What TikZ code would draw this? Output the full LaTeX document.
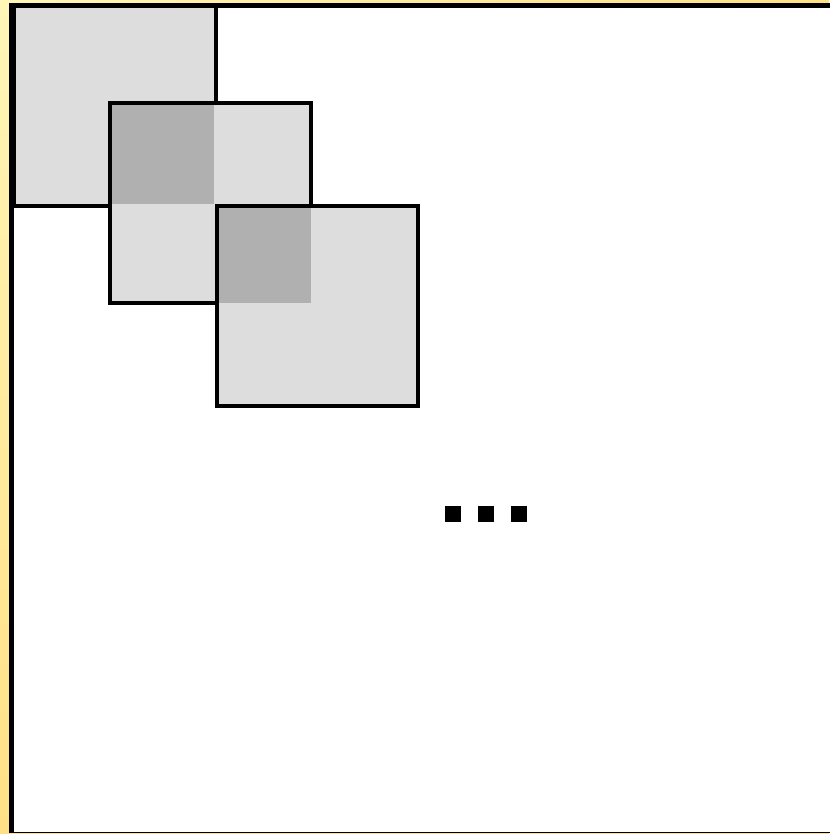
\documentclass[tikz,border=0pt]{standalone}
\usetikzlibrary{shadings}
\definecolor{lightsq}{HTML}{DDDDDD}
\definecolor{darksq}{HTML}{B0B0B0}
\definecolor{paleyel}{HTML}{FFF6B8}
\definecolor{deepyel}{HTML}{FFE085}
\begin{document}
\begin{tikzpicture}[x=0.02cm,y=-0.02cm,
  sq/.style={draw,line width=0.08cm,fill=lightsq,minimum width=4.04cm,minimum height=4.02cm,inner sep=0pt,outer sep=0pt},
  dot/.style={fill=black,minimum size=0.33cm,inner sep=0pt,outer sep=0pt},
  frame/.style={line width=0.09cm}]
  \useasboundingbox (0,0) rectangle (829,834);
  \shade[upper left=paleyel,upper right=deepyel,lower left=deepyel,lower right=deepyel] (0,0) rectangle (829,834);
  \coordinate (ftl) at (11.7,5.3);
  \coordinate (ftr) at (835,5.3);
  \coordinate (fbl) at (11.7,832.6);
  \coordinate (fbr) at (835,832.6);
  \fill[white] (ftl) rectangle (fbr);
  \draw[frame] (fbl) -- (ftl) -- (ftr);
  \draw[line width=0.03cm] (fbl) -- (fbr);
  % windows
  \node[sq] (w1) at (115,106) {};
  \node[sq] (w2) at (210.5,203) {};
  \fill[darksq] ([shift={(0.04cm,-0.04cm)}]w2.north west) rectangle ([shift={(-0.04cm,0.04cm)}]w1.south east);
  \node[sq] (w3) at (317.5,306) {};
  \fill[darksq] ([shift={(0.04cm,-0.04cm)}]w3.north west) rectangle (w2.south east);
  % more
  \node[dot] (d1) at (453,514) {};
  \node[dot] (d2) at (486,514) {};
  \node[dot] (d3) at (519,514) {};
\end{tikzpicture}
\end{document}
